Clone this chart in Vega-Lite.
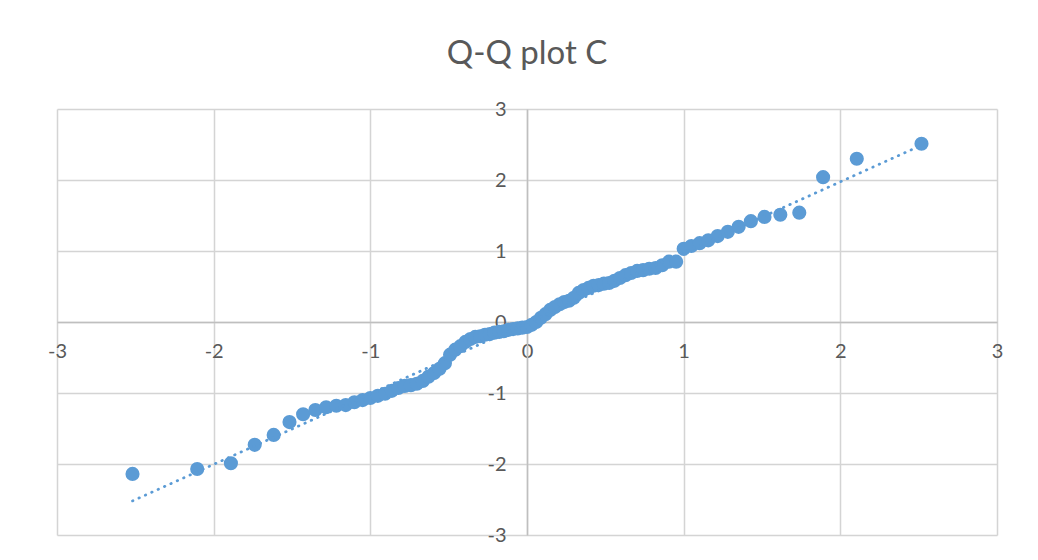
{
  "$schema": "https://vega.github.io/schema/vega-lite/v6.json",
  "width": 940,
  "height": 426,
  "autosize": "none",
  "padding": {"left": 57, "top": 109, "right": 41, "bottom": 25},
  "background": "white",
  "view": {"stroke": null},
  "title": {
    "text": "Q-Q plot C",
    "font": "Lato",
    "fontSize": 33,
    "fontWeight": "normal",
    "color": "#595959",
    "anchor": "middle",
    "frame": "group",
    "offset": 28
  },
  "datasets": {
    "points": [
      {"x": -2.518, "y": -2.14}, {"x": -2.105, "y": -2.07}, {"x": -1.890, "y": -1.99}, {"x": -1.738, "y": -1.73},
      {"x": -1.617, "y": -1.59}, {"x": -1.516, "y": -1.41}, {"x": -1.429, "y": -1.30}, {"x": -1.351, "y": -1.24},
      {"x": -1.282, "y": -1.20}, {"x": -1.217, "y": -1.18}, {"x": -1.157, "y": -1.17}, {"x": -1.102, "y": -1.13},
      {"x": -1.049, "y": -1.10}, {"x": -1.000, "y": -1.07}, {"x": -0.952, "y": -1.04}, {"x": -0.906, "y": -1.01},
      {"x": -0.863, "y": -0.97}, {"x": -0.821, "y": -0.93}, {"x": -0.780, "y": -0.90}, {"x": -0.741, "y": -0.89},
      {"x": -0.703, "y": -0.87}, {"x": -0.665, "y": -0.83}, {"x": -0.629, "y": -0.77}, {"x": -0.593, "y": -0.72},
      {"x": -0.558, "y": -0.66}, {"x": -0.524, "y": -0.58}, {"x": -0.491, "y": -0.46}, {"x": -0.458, "y": -0.39},
      {"x": -0.425, "y": -0.34}, {"x": -0.393, "y": -0.28}, {"x": -0.361, "y": -0.24}, {"x": -0.330, "y": -0.21},
      {"x": -0.299, "y": -0.20}, {"x": -0.268, "y": -0.18}, {"x": -0.238, "y": -0.17}, {"x": -0.208, "y": -0.15},
      {"x": -0.178, "y": -0.14}, {"x": -0.148, "y": -0.13}, {"x": -0.118, "y": -0.11}, {"x": -0.089, "y": -0.10},
      {"x": -0.059, "y": -0.09}, {"x": -0.030, "y": -0.08}, {"x": 0.000, "y": -0.07}, {"x": 0.030, "y": -0.04},
      {"x": 0.059, "y": 0.00}, {"x": 0.089, "y": 0.06}, {"x": 0.118, "y": 0.11}, {"x": 0.148, "y": 0.17},
      {"x": 0.178, "y": 0.21}, {"x": 0.208, "y": 0.25}, {"x": 0.238, "y": 0.28}, {"x": 0.268, "y": 0.30},
      {"x": 0.299, "y": 0.34}, {"x": 0.330, "y": 0.41}, {"x": 0.361, "y": 0.45}, {"x": 0.393, "y": 0.48},
      {"x": 0.425, "y": 0.51}, {"x": 0.458, "y": 0.52}, {"x": 0.491, "y": 0.54}, {"x": 0.524, "y": 0.55},
      {"x": 0.558, "y": 0.58}, {"x": 0.593, "y": 0.62}, {"x": 0.629, "y": 0.66}, {"x": 0.665, "y": 0.69},
      {"x": 0.703, "y": 0.72}, {"x": 0.741, "y": 0.73}, {"x": 0.780, "y": 0.75}, {"x": 0.821, "y": 0.76},
      {"x": 0.863, "y": 0.80}, {"x": 0.906, "y": 0.85}, {"x": 0.952, "y": 0.85}, {"x": 1.000, "y": 1.03},
      {"x": 1.049, "y": 1.07}, {"x": 1.102, "y": 1.11}, {"x": 1.157, "y": 1.15}, {"x": 1.217, "y": 1.21},
      {"x": 1.282, "y": 1.27}, {"x": 1.351, "y": 1.34}, {"x": 1.429, "y": 1.42}, {"x": 1.516, "y": 1.48},
      {"x": 1.617, "y": 1.51}, {"x": 1.738, "y": 1.54}, {"x": 1.890, "y": 2.04}, {"x": 2.105, "y": 2.30},
      {"x": 2.518, "y": 2.51}
    ],
    "trend": [
      {"x": -2.518, "y": -2.52},
      {"x": 2.518, "y": 2.49}
    ]
  },
  "encoding": {
    "x": {
      "field": "x",
      "type": "quantitative",
      "scale": {"domain": [-3, 3], "nice": false, "zero": false},
      "axis": {
        "orient": "bottom",
        "offset": -213,
        "values": [-3, -2, -1, 0, 1, 2, 3],
        "labelExpr": "'' + datum.value",
        "title": null,
        "grid": true,
        "gridColor": "#d4d4d4",
        "gridWidth": 1.5,
        "domainColor": "#bfbfbf",
        "domainWidth": 1.5,
        "ticks": false,
        "labelFont": "Lato",
        "labelFontSize": 20,
        "labelColor": "#595959",
        "labelPadding": 19,
        "labelFlush": false,
        "labelOverlap": false,
        "zindex": 0
      }
    },
    "y": {
      "field": "y",
      "type": "quantitative",
      "scale": {"domain": [-3, 3], "nice": false, "zero": false},
      "axis": {
        "orient": "left",
        "offset": -470,
        "values": [-3, -2, -1, 0, 1, 2, 3],
        "labelExpr": "'' + datum.value",
        "title": null,
        "grid": true,
        "gridColor": "#d4d4d4",
        "gridWidth": 1.5,
        "domainColor": "#bfbfbf",
        "domainWidth": 1.5,
        "ticks": false,
        "labelFont": "Lato",
        "labelFontSize": 20,
        "labelColor": "#595959",
        "labelPadding": 21,
        "labelFlush": false,
        "labelOverlap": false,
        "zindex": 0
      }
    }
  },
  "layer": [
    {
      "data": {"name": "points"},
      "mark": {"type": "circle", "size": 200, "color": "#5B9BD5", "opacity": 1}
    },
    {
      "data": {"name": "trend"},
      "mark": {
        "type": "line",
        "color": "#5B9BD5",
        "strokeWidth": 2.75,
        "strokeCap": "round",
        "strokeDash": [0.5, 6.5]
      }
    }
  ]
}
